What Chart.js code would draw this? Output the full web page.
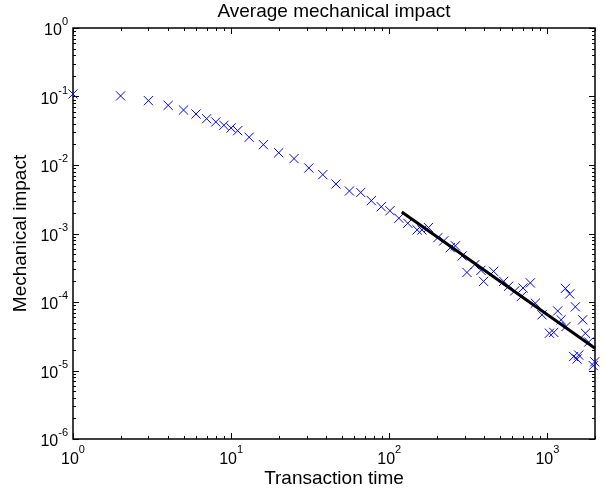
<!DOCTYPE html>
<html>
<head>
<meta charset="utf-8">
<script src="https://cdn.jsdelivr.net/npm/chart.js@4.4.1/dist/chart.umd.min.js"></script>
<style>
    html, body { margin: 0; padding: 0; background: #fff; }
    #wrap { width: 607px; height: 495px; }
</style>
</head>
<body>
<div id="wrap"><canvas id="impactChart" width="607" height="495"></canvas></div>
<script>
// measured points (transaction time vs average mechanical impact)
const transactionTime = [
    1, 2, 3, 4, 5, 6, 7, 8, 9, 10, 11, 13, 16, 20, 25, 31, 38, 46, 56, 66, 77, 89, 101,
    115, 131, 150, 161, 177, 203, 221, 243, 262, 289, 310, 347, 380, 395, 457, 529, 569,
    621, 684, 702, 780, 839, 925, 1030, 1097, 1162, 1221, 1300, 1313, 1384, 1466, 1503,
    1541, 1578, 1672, 1740, 1825, 1950, 1992
];
const mechanicalImpact = [
    0.109, 0.102, 0.0869, 0.0743, 0.0635, 0.0555, 0.0474, 0.0425, 0.038, 0.0347, 0.0317,
    0.0254, 0.0198, 0.0151, 0.0124, 0.00904, 0.00724, 0.00528, 0.00417, 0.00397, 0.00302,
    0.00246, 0.00215,
    0.00167, 0.00141, 0.00113, 0.00113, 0.00122, 0.00087, 0.00078, 0.00062, 0.00066,
    0.00047, 0.00027, 0.00035, 0.00029, 0.0002, 0.00028, 0.0002, 0.00017,
    0.000145, 0.00012, 0.00016, 0.00019, 0.000096, 0.000065, 0.000035, 0.000036, 0.000074,
    0.000055, 0.000158, 0.000044, 0.000131, 0.000016, 0.000085,
    0.0000147, 0.0000168, 0.000055, 0.000035, 0.000026, 0.0000118, 0.0000134
];

// power-law fit drawn over the tail
const fitTime = [120, 2000];
const fitImpact = [0.00206, 0.0000211];

// axis decades (exponents of 10)
const xDecades = [0, 1, 2, 3];
const yDecades = [0, -1, -2, -3, -4, -5, -6];

const FONT = '"Liberation Sans", Arial, Helvetica, sans-serif';

// MATLAB style box, inward ticks and 10^n labels
const matlabAxes = {
    id: 'matlabAxes',
    beforeDatasetsDraw(chart) {
        const { ctx, chartArea: a, scales: { x, y } } = chart;
        ctx.save();
        ctx.strokeStyle = '#000';
        ctx.lineWidth = 1;
        ctx.beginPath();
        xDecades.forEach(d => {
            for (let m = 1; m < 10; m++) {
                const v = m * Math.pow(10, d);
                if (v < x.min || v > x.max) continue;
                const px = Math.round(x.getPixelForValue(v)) + 0.5;
                const len = m === 1 ? 6 : 3;
                ctx.moveTo(px, a.bottom); ctx.lineTo(px, a.bottom - len);
                ctx.moveTo(px, a.top); ctx.lineTo(px, a.top + len);
            }
        });
        yDecades.forEach(d => {
            for (let m = 1; m < 10; m++) {
                const v = m * Math.pow(10, d);
                if (v < y.min || v > y.max) continue;
                const py = Math.round(y.getPixelForValue(v)) + 0.5;
                const len = m === 1 ? 6 : 3;
                ctx.moveTo(a.left, py); ctx.lineTo(a.left + len, py);
                ctx.moveTo(a.right, py); ctx.lineTo(a.right - len, py);
            }
        });
        ctx.stroke();

        ctx.lineWidth = 1.5;
        ctx.strokeRect(a.left, a.top, a.right - a.left, a.bottom - a.top);

        const base = '16px ' + FONT;
        const sup = '11px ' + FONT;
        ctx.fillStyle = '#000';
        ctx.textAlign = 'left';
        ctx.textBaseline = 'alphabetic';

        xDecades.forEach(d => {
            const px = x.getPixelForValue(Math.pow(10, d));
            const e = String(d);
            ctx.font = base; const wb = ctx.measureText('10').width;
            ctx.font = sup; const we = ctx.measureText(e).width;
            const left = px - (wb + we) / 2;
            ctx.font = base; ctx.fillText('10', left, a.bottom + 25);
            ctx.font = sup; ctx.fillText(e, left + wb, a.bottom + 14);
        });

        yDecades.forEach(d => {
            const py = y.getPixelForValue(Math.pow(10, d));
            const e = String(d);
            ctx.font = base; const wb = ctx.measureText('10').width;
            ctx.font = sup; const we = ctx.measureText(e).width;
            const right = a.left - 5;
            ctx.font = sup; ctx.fillText(e, right - we, py - 3);
            ctx.font = base; ctx.fillText('10', right - we - wb, py + 7);
        });
        ctx.restore();
    }
};

const ctx = document.getElementById('impactChart').getContext('2d');

new Chart(ctx, {
    type: 'scatter',
    data: {
        datasets: [{
            label: 'Average mechanical impact',
            data: transactionTime.map((t, i) => ({ x: t, y: mechanicalImpact[i] })),
            pointStyle: 'crossRot',
            pointRadius: 6.5,
            borderColor: '#0000ff',
            backgroundColor: '#0000ff',
            borderWidth: 1,
            showLine: false,
            clip: false,
            order: 1
        }, {
            label: 'Fit',
            data: fitTime.map((t, i) => ({ x: t, y: fitImpact[i] })),
            showLine: true,
            borderColor: '#000000',
            borderWidth: 3,
            pointRadius: 0,
            clip: false,
            order: 0
        }]
    },
    options: {
        responsive: false,
        animation: false,
        devicePixelRatio: 1,
        layout: { padding: { left: 0, right: 12, top: 0, bottom: 0 } },
        plugins: {
            legend: { display: false },
            tooltip: { enabled: false },
            title: {
                display: true,
                text: 'Average mechanical impact',
                fullSize: false,
                color: '#000',
                font: { family: FONT, size: 19, weight: 'normal', lineHeight: 1.2 },
                padding: { top: 0, bottom: 5.2 }
            }
        },
        scales: {
            x: {
                type: 'logarithmic',
                min: 1,
                max: 2000,
                grid: { display: false },
                border: { display: false },
                ticks: { display: false },
                title: {
                    display: true,
                    text: 'Transaction time',
                    color: '#000',
                    font: { family: FONT, size: 19, lineHeight: 1.2 },
                    padding: { top: 0, bottom: 5 }
                },
                afterFit(scale) { scale.height = 56; }
            },
            y: {
                type: 'logarithmic',
                min: 1e-6,
                max: 1,
                grid: { display: false },
                border: { display: false },
                ticks: { display: false },
                title: {
                    display: true,
                    text: 'Mechanical impact',
                    color: '#000',
                    font: { family: FONT, size: 19, lineHeight: 1.2 },
                    padding: { top: 9, bottom: 0 }
                },
                afterFit(scale) { scale.width = 73; }
            }
        }
    },
    plugins: [matlabAxes]
});
</script>
</body>
</html>
